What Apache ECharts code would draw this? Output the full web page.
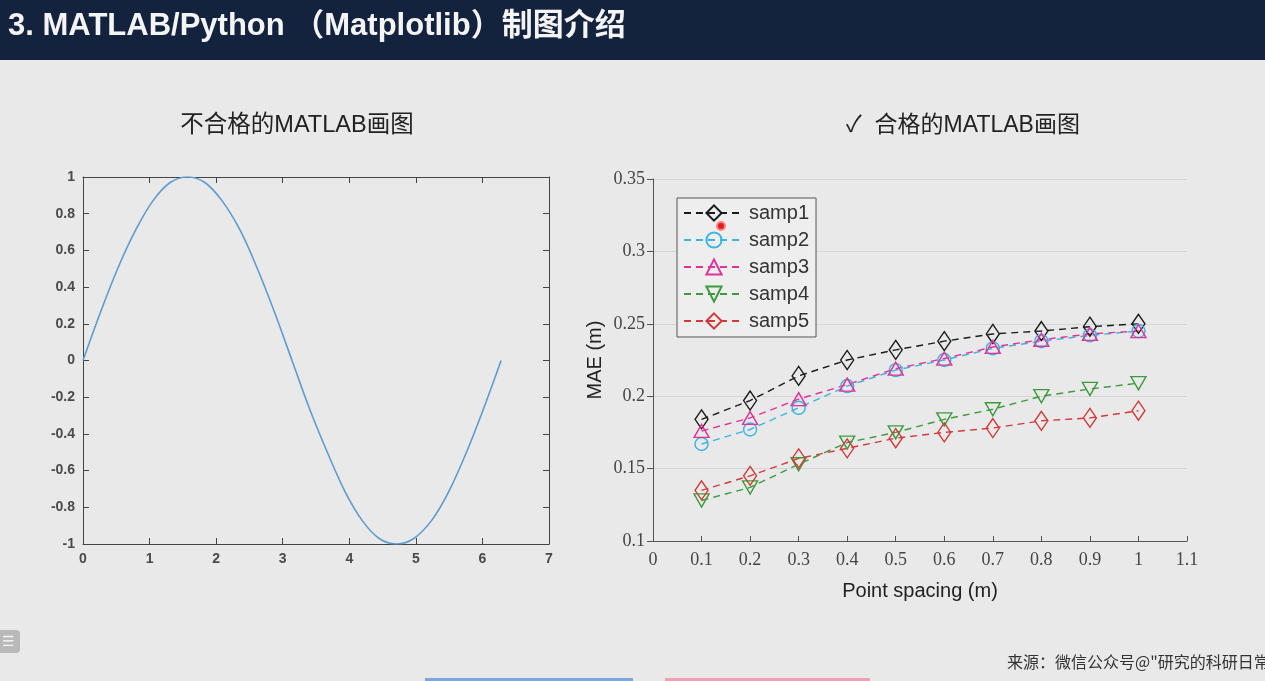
<!DOCTYPE html>
<html><head><meta charset="utf-8">
<script src="https://cdn.jsdelivr.net/npm/echarts@6/dist/echarts.min.js"></script>
<style>html,body{margin:0;padding:0;background:#e9e9e9}#c{width:1265px;height:681px}</style>
</head><body><div id="c"></div>
<script>
// ---- data ----
const sineX = [0,0.26,0.52,0.79,1.05,1.31,1.57,1.83,2.09,2.36,2.62,2.88,3.14,3.40,3.67,3.93,4.19,4.45,4.71,4.97,5.24,5.50,5.76,6.02,6.28];
const sineY = [0,0.26,0.5,0.71,0.87,0.97,1,0.97,0.87,0.71,0.5,0.26,0,-0.26,-0.5,-0.71,-0.87,-0.97,-1,-0.97,-0.87,-0.71,-0.5,-0.26,0];
const spacing = [0.1,0.2,0.3,0.4,0.5,0.6,0.7,0.8,0.9,1.0];
const seriesNames = ['samp1','samp2','samp3','samp4','samp5'];
const samp1 = [0.184,0.197,0.214,0.225,0.232,0.238,0.243,0.245,0.248,0.250];
const samp2 = [0.167,0.177,0.192,0.207,0.218,0.225,0.233,0.238,0.242,0.245];
const samp3 = [0.176,0.185,0.198,0.208,0.219,0.226,0.234,0.239,0.243,0.245];
const samp4 = [0.128,0.137,0.153,0.168,0.175,0.184,0.191,0.200,0.205,0.209];
const samp5 = [0.135,0.145,0.157,0.164,0.171,0.175,0.178,0.183,0.185,0.190];
const titleText = '3. MATLAB/Python （Matplotlib）制图介绍';
const leftTitle = '不合格的MATLAB画图';
const rightTitle = '✓  合格的MATLAB画图';
const sourceText = '来源：微信公众号@"研究的科研日常"';

// ---- styles ----
const colors = ['#1a1a1a','#3ab4e0','#e0339a','#3c9a3c','#d03a3a'];
const symbols = ['diamond','circle','triangle','triangle','diamond'];
const symSizes = [[13,19],13,[15,13],[15,13],[13,19]];
const rotates = [0,0,0,180,0];
const allSamp = [samp1,samp2,samp3,samp4,samp5];

const chart = echarts.init(document.getElementById('c'));
const sans = 'Liberation Sans, Arial, Noto Sans CJK SC, sans-serif';
const serif = 'Liberation Serif, Times New Roman, serif';

const leftAxisCommon = {
  axisLine:{show:true,onZero:false,lineStyle:{color:'#444',width:1}},
  axisTick:{show:true,inside:true,length:6,lineStyle:{color:'#444'}},
  splitLine:{show:false},
  axisLabel:{color:'#4a4a4a',fontSize:14,fontFamily:sans,fontWeight:'bold'}
};

const sampSeries = seriesNames.map((n,i)=>({
  name:n, type:'line', xAxisIndex:4, yAxisIndex:4,
  data: spacing.map((x,j)=>[x, allSamp[i][j]]),
  symbol:symbols[i], symbolSize:symSizes[i], symbolRotate:rotates[i],
  showAllSymbol:true,
  lineStyle:{color:colors[i], width:1.4, type:[7,5]},
  itemStyle:{color:'rgba(0,0,0,0)', borderColor:colors[i], borderWidth:1.4},
  emphasis:{disabled:true}, z:3
}));

chart.setOption({
  animation:false,
  backgroundColor:'#e9e9e9',
  graphic:[
    {type:'rect', shape:{x:0,y:0,width:1265,height:60}, style:{fill:'#13223d'}},
    {type:'text', x:8, y:26, style:{text:titleText, fill:'#f4f4f4', font:'bold 31px '+sans, textVerticalAlign:'middle'}},
    {type:'text', x:297, y:126, style:{text:leftTitle, fill:'#222', font:'23.5px '+sans, textAlign:'center', textVerticalAlign:'middle'}},
    {type:'text', x:963, y:126, style:{text:rightTitle, fill:'#222', font:'23px '+sans, textAlign:'center', textVerticalAlign:'middle'}},
    {type:'text', x:1007, y:662, style:{text:sourceText, fill:'#333', font:'16px Noto Sans CJK SC, sans-serif', textVerticalAlign:'middle'}},
    {type:'rect', shape:{x:-6,y:630,width:26,height:23,r:4}, style:{fill:'#b9b9b9'}},
    {type:'text', x:2, y:642, style:{text:'☰', fill:'#f2f2f2', font:'14px DejaVu Sans', textVerticalAlign:'middle'}},
    {type:'circle', shape:{cx:721,cy:226,r:4}, style:{fill:'#e02020', stroke:'#ff8080', lineWidth:2}, z:10},
    {type:'rect', shape:{x:425,y:678,width:208,height:3}, style:{fill:'#7aa8e0'}},
    {type:'rect', shape:{x:665,y:678,width:205,height:3}, style:{fill:'#f0a0b0'}}
  ],
  grid:[
    {left:83, top:177, width:466, height:367, show:false},
    {left:653, top:179, width:534, height:362}
  ],
  xAxis:[
    Object.assign({type:'value', gridIndex:0, min:0, max:7, interval:1, position:'bottom'}, leftAxisCommon),
    Object.assign({}, leftAxisCommon, {type:'value', gridIndex:0, min:0, max:7, interval:1, position:'top', axisLabel:{show:false}}),
    {type:'value', gridIndex:0, min:0, max:7, show:false},
    {type:'value', gridIndex:0, min:0, max:7, show:false},
    {type:'value', gridIndex:1, min:0, max:1.1, interval:0.1, position:'bottom',
     name:'Point spacing (m)', nameLocation:'middle', nameGap:40,
     nameTextStyle:{color:'#222', fontSize:20, fontFamily:sans},
     axisLine:{show:true, onZero:false, lineStyle:{color:'#555'}},
     axisTick:{show:true, inside:true, length:5, lineStyle:{color:'#555'}},
     splitLine:{show:false},
     axisLabel:{color:'#444', fontSize:18, fontFamily:serif, margin:10}}
  ],
  yAxis:[
    Object.assign({type:'value', gridIndex:0, min:-1, max:1, interval:0.2, position:'left'}, leftAxisCommon),
    Object.assign({}, leftAxisCommon, {type:'value', gridIndex:0, min:-1, max:1, interval:0.2, position:'right', axisLabel:{show:false}}),
    {type:'value', gridIndex:0, min:-1, max:1, show:false},
    {type:'value', gridIndex:0, min:-1, max:1, show:false},
    {type:'value', gridIndex:1, min:0.1, max:0.35, interval:0.05, position:'left',
     name:'MAE (m)', nameLocation:'middle', nameGap:48, nameRotate:90,
     nameTextStyle:{color:'#222', fontSize:20, fontFamily:sans},
     axisLine:{show:true, onZero:false, lineStyle:{color:'#555'}},
     axisTick:{show:true, inside:false, length:6, lineStyle:{color:'#555'}},
     splitLine:{show:true, lineStyle:{color:'#d6d6d6', width:1}},
     axisLabel:{color:'#444', fontSize:18, fontFamily:serif, margin:8}}
  ],
  legend:{
    data:seriesNames, orient:'vertical', left:677, top:198,
    itemWidth:60, itemHeight:19, itemGap:7,
    padding:[5,7,6,6],
    borderColor:'#555', borderWidth:1, backgroundColor:'#eeeeee',
    textStyle:{color:'#333', fontSize:20, fontFamily:sans},
    selectedMode:false
  },
  series:[
    {type:'line', xAxisIndex:0, yAxisIndex:0, data:sineX.map((x,i)=>[x,sineY[i]]),
     smooth:0.35, showSymbol:false, lineStyle:{color:'#5d9cd0', width:1.6}, emphasis:{disabled:true}},
    ...sampSeries
  ]
});
</script></body></html>
